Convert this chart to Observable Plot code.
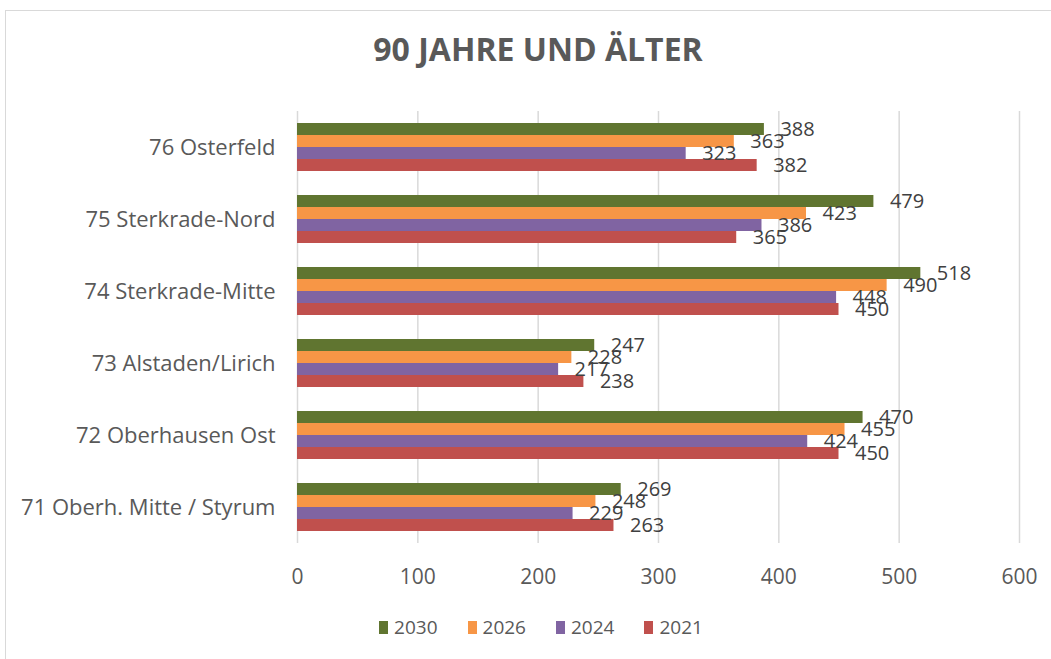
<!DOCTYPE html>
<html>
<head>
<meta charset="utf-8">
<script src="https://cdn.jsdelivr.net/npm/d3@7"></script>
<script src="https://cdn.jsdelivr.net/npm/@observablehq/plot@0.6"></script>
<style>
  html, body { margin: 0; padding: 0; background: #fff; }
  #page { position: relative; width: 1051px; height: 659px; overflow: hidden; font-family: "Open Sans", sans-serif; color: #595959; }
  #frame { position: absolute; left: 5px; top: 10px; width: 1060px; height: 660px; border: 1px solid #d9d9d9; box-sizing: border-box; }
  #title { position: absolute; left: 0; width: 1076px; top: 30px; text-align: center; font-size: 32px; font-weight: 700; line-height: 1.2; color: #595959; }
  #chart { position: absolute; left: 0; top: 0; }
  #legend { position: absolute; top: 614px; left: 0; width: 1082px; display: flex; justify-content: center; gap: 30px; font-size: 19px; color: #595959; }
  .item { display: flex; align-items: center; gap: 6px; }
  .sw { width: 9px; height: 13px; display: inline-block; }
</style>
</head>
<body>
<div id="page">
  <div id="frame"></div>
  <div id="title">90 JAHRE UND ÄLTER</div>
  <div id="chart"></div>
  <div id="legend"></div>
</div>
<script>
const districts = ["76 Osterfeld", "75 Sterkrade-Nord", "74 Sterkrade-Mitte", "73 Alstaden/Lirich", "72 Oberhausen Ost", "71 Oberh. Mitte / Styrum"];
const years = ["2030", "2026", "2024", "2021"];
const values2030 = [388, 479, 518, 247, 470, 269];
const values2026 = [363, 423, 490, 228, 455, 248];
const values2024 = [323, 386, 448, 217, 424, 229];
const values2021 = [382, 365, 450, 238, 450, 263];
const colors = ["#607530", "#f79646", "#8064a2", "#c0504d"];
const xTicks = [0, 100, 200, 300, 400, 500, 600];

const series = [values2030, values2026, values2024, values2021];
const data = [];
districts.forEach((d, i) => {
  years.forEach((y, j) => data.push({district: d, year: y, value: series[j][i]}));
});

const chart = Plot.plot({
  width: 1051,
  height: 600,
  marginLeft: 297,
  marginRight: 32,
  marginTop: 110,
  marginBottom: 56,
  style: {fontFamily: "Open Sans, sans-serif", color: "#595959", background: "transparent"},
  x: {domain: [0, 600], ticks: xTicks, tickSize: 0, tickPadding: 26, label: null, fontSize: 21},
  y: {domain: years, axis: null, paddingInner: 0, paddingOuter: 0.9},
  fy: {domain: districts, padding: 0, axis: "left", tickSize: 0, tickPadding: 22, label: null},
  color: {domain: years, range: colors},
  marks: [
    Plot.ruleX(xTicks, {stroke: "#d9d9d9", strokeWidth: 1.5}),
    Plot.barX(data, {x: "value", y: "year", fy: "district", fill: "year"}),
    Plot.text(data, {x: "value", y: "year", fy: "district", text: d => String(d.value), dx: 16, textAnchor: "start", fontSize: 20, fill: "#404040"})
  ]
});
document.getElementById("chart").appendChild(chart);
// enlarge axis label fonts
chart.querySelectorAll('[aria-label="x-axis tick label"] text, [aria-label="x-axis"] text').forEach(t => t.style.fontSize = "21px");
chart.querySelectorAll('[aria-label="fy-axis tick label"] text, [aria-label="fy-axis"] text').forEach(t => t.style.fontSize = "22px");

const legend = document.getElementById("legend");
years.forEach((y, i) => {
  const it = document.createElement("div");
  it.className = "item";
  it.innerHTML = `<span class="sw" style="background:${colors[i]}"></span><span>${y}</span>`;
  legend.appendChild(it);
});
</script>
</body>
</html>
